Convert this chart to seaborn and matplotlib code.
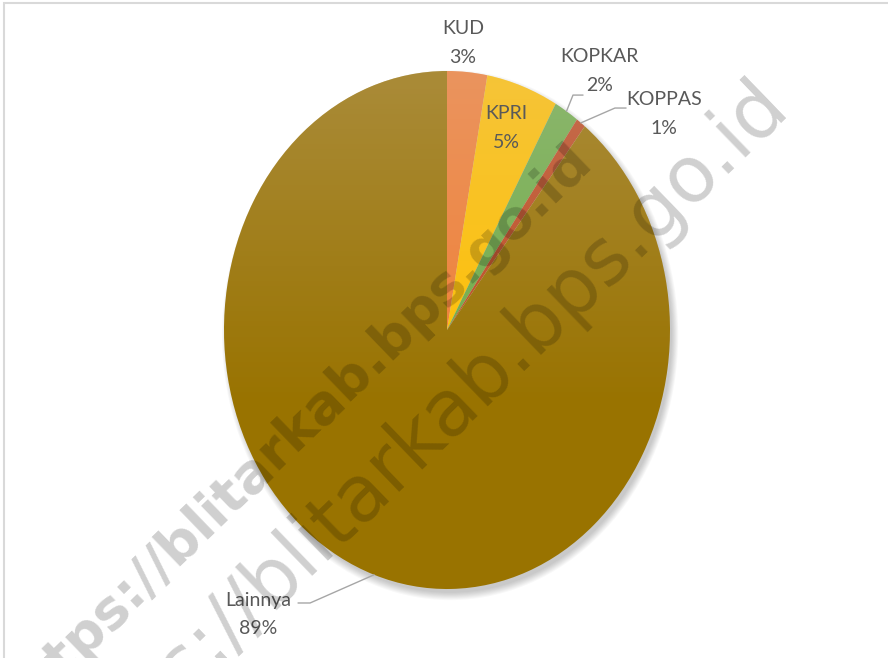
import numpy as np
import matplotlib
matplotlib.use("Agg")
import matplotlib.pyplot as plt
import matplotlib.patches as mpatches
import seaborn as sns

# === Data (percent share of cooperatives) ===
categories = ["KUD", "KPRI", "KOPKAR", "KOPPAS", "Lainnya"]
shares = [2.9, 5.2, 1.8, 0.7, 89.4]
pct_labels = ["3%", "5%", "2%", "1%", "89%"]
colors = ["#F07F33", "#FFC000", "#70AD47", "#BE4B1E", "#997300"]

# label layout (data units of the pie axes) and leader-line elbows
label_pos = {
    "KUD": (0.072, 1.108),
    "KPRI": (0.265, 0.780),
    "KOPKAR": (0.682, 1.000),
    "KOPPAS": (0.973, 0.834),
    "Lainnya": (-0.848, -1.100),
}
leaders = {
    "KOPKAR": [(0.565, 0.907), (0.61, 0.907)],
    "KOPPAS": [(0.753, 0.857), (0.803, 0.857)],
    "Lainnya": [(-0.614, -1.054), (-0.668, -1.054)],
}

sns.set_theme(style="white")
plt.rcParams["font.family"] = ["Lato", "DejaVu Sans"]

W, H = 888, 658
fig = plt.figure(figsize=(W / 100, H / 100), dpi=100)
fig.patch.set_facecolor("white")

# light frame (left/top edges visible)
fig.add_artist(mpatches.Rectangle((3.5 / W, -0.1), 1.2, 1.1 - 3.5 / H,
                                  transform=fig.transFigure, fill=False,
                                  edgecolor="#D9D9D9", linewidth=1.5))

cx, cy, rx, ry = 447, 330, 223, 259
ax = fig.add_axes([(cx - rx) / W, (H - cy - ry) / H, 2 * rx / W, 2 * ry / H])

# soft shadow, offset to the lower right
for k in range(8):
    sh = mpatches.Circle((0.014, -0.02), 0.995 + 0.004 * k, color="black",
                         alpha=0.028, zorder=0, clip_on=False, lw=0)
    ax.add_patch(sh)

wedges, _ = ax.pie(shares, colors=colors, startangle=90, counterclock=False,
                   radius=1, wedgeprops=dict(linewidth=0))
for w in wedges:
    w.set_zorder(2)
ax.set_aspect("auto")
ax.set_xlim(-1, 1)
ax.set_ylim(-1, 1)
ax.axis("off")

# top-lit gradient overlay like the Excel style
n = 300
yy = np.linspace(1, -1, n)
alpha = np.clip(0.26 * (1 - (1 - yy) / 1.3), 0, None)
grad = np.zeros((n, 2, 4))
grad[..., 0] = 0.86
grad[..., 1] = 0.82
grad[..., 2] = 0.86
grad[..., 3] = alpha[:, None]
im = ax.imshow(grad, extent=[-1, 1, -1, 1], aspect="auto", zorder=3, interpolation="bilinear")
im.set_clip_path(mpatches.Circle((0, 0), 1, transform=ax.transData))

# labels
txt_kw = dict(ha="center", va="center", fontsize=14, color="#595959",
              linespacing=1.8, zorder=6, clip_on=False)
for i, (cat, w) in enumerate(zip(categories, wedges)):
    x, y = label_pos[cat]
    ax.text(x, y, f"{cat}\n{pct_labels[i]}", **txt_kw)
    if cat in leaders:
        mid = np.deg2rad((w.theta1 + w.theta2) / 2)
        pts = [(np.cos(mid), np.sin(mid))] + leaders[cat]
        ax.plot([p[0] for p in pts], [p[1] for p in pts], color="#A6A6A6",
                lw=1, zorder=5, clip_on=False)

# watermark
fig.text(0.332, 0.346, "https://blitarkab.bps.go.id", rotation=44,
         rotation_mode="anchor", ha="center", va="center", fontsize=39,
         fontweight="bold", family="DejaVu Sans", color="black", alpha=0.19, zorder=10)
fig.text(0.467, 0.331, "https://blitarkab.bps.go.id", rotation=44,
         rotation_mode="anchor", ha="center", va="center", fontsize=56,
         family="DejaVu Sans", color="black", alpha=0.19, zorder=10)

fig.savefig("out.png", dpi=100)
